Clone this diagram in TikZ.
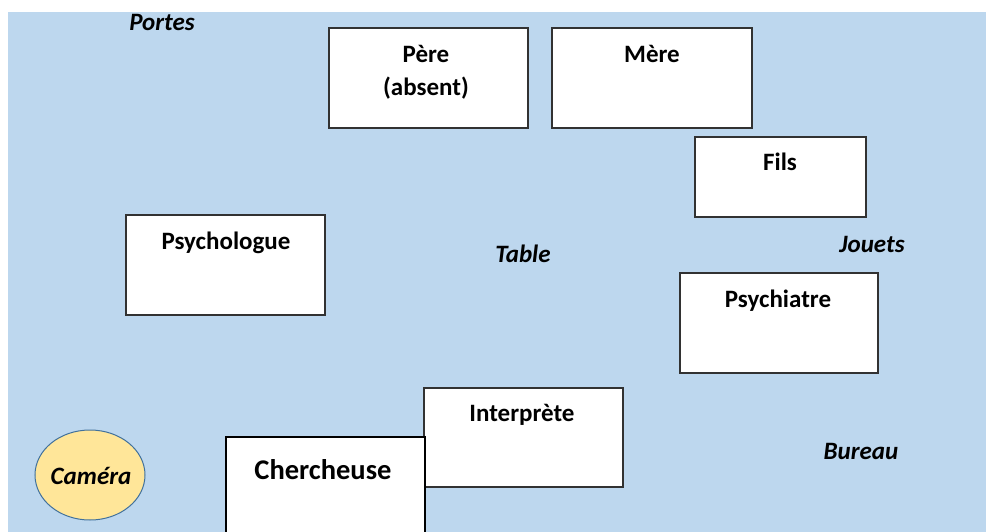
\documentclass[tikz,border=0pt]{standalone}
\usepackage{fontspec}
\setmainfont{Carlito}
\usetikzlibrary{shapes.geometric}
\definecolor{bgblue}{RGB}{189,215,238}
\definecolor{camfill}{RGB}{255,230,153}
\definecolor{camline}{RGB}{65,113,156}
\definecolor{boxline}{RGB}{50,50,50}
\tikzset{
  box/.style={draw=boxline, line width=1.6pt, fill=white, inner sep=0pt},
  lbl/.style={anchor=base, inner sep=0pt, font=\fontsize{25}{30}\selectfont\bfseries},
  itl/.style={anchor=base, inner sep=0pt, font=\fontsize{25}{30}\selectfont\bfseries\itshape},
}
\begin{document}
\begin{tikzpicture}[x=1pt,y=-1pt]
\clip (0,0) rectangle (986,531);
\fill[bgblue] (8,12) rectangle (990,540);
% boxes
\node[box, minimum width=199pt, minimum height=100pt] (pere) at (428.5,78) {};
\node[box, minimum width=200pt, minimum height=100pt] (mere) at (652,78) {};
\node[box, minimum width=171pt, minimum height=80pt] (fils) at (780.5,177) {};
\node[box, minimum width=199pt, minimum height=100pt] (psychologue) at (225.5,265) {};
\node[box, minimum width=198pt, minimum height=100pt] (psychiatre) at (779,323) {};
\node[box, minimum width=199pt, minimum height=99pt] (interprete) at (523.5,437.5) {};
\node[box, draw=black, minimum width=199pt, minimum height=110pt] (chercheuse) at (325.5,492) {};
\node[draw=camline, line width=1pt, fill=camfill, ellipse, minimum width=110pt, minimum height=90pt, inner sep=0pt] (camera) at (90,475) {};
% texts
\node[lbl] (tpere) at (426,62) {Père};
\node[lbl] (tabsent) at (426,95) {(absent)};
\node[lbl] (tmere) at (652,62) {Mère};
\node[lbl] (tfils) at (780,170) {Fils};
\node[lbl] (tpsychologue) at (226,249) {Psychologue};
\node[lbl] (tpsychiatre) at (778,307) {Psychiatre};
\node[lbl] (tinterprete) at (522,421) {Interprète};
\node[anchor=base, inner sep=0pt, font=\fontsize{28.5}{34}\selectfont\bfseries] (tchercheuse) at (323,479) {Chercheuse};
\node[itl] (tcamera) at (91,484) {Caméra};
\node[itl] (portes) at (162,30) {Portes};
\node[itl] (table) at (523,262) {Table};
\node[itl] (jouets) at (872,252) {Jouets};
\node[itl] (bureau) at (861,459) {Bureau};
\end{tikzpicture}
\end{document}
